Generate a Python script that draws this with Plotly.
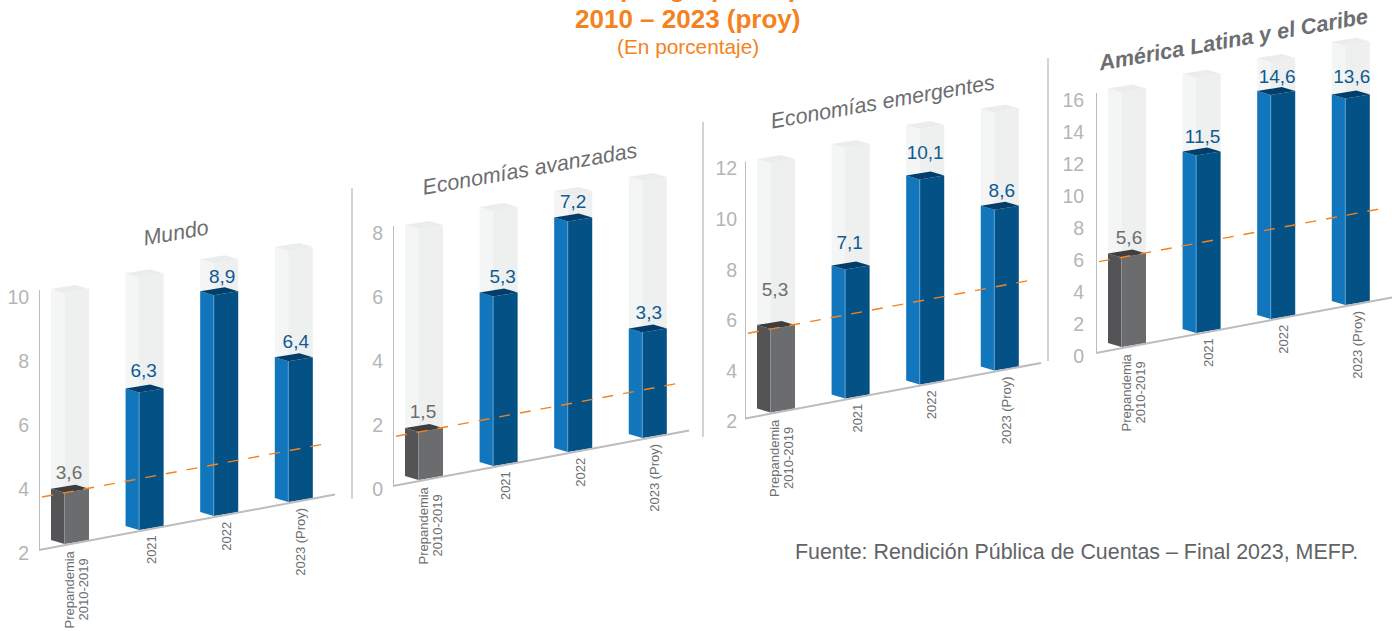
import plotly.graph_objects as go

# ---------- data ----------
categories = ["Prepandemia<br>2010-2019", "2021", "2022", "2023 (Proy)"]
panel_titles = ["Mundo", "Economías avanzadas", "Economías emergentes", "América Latina y el Caribe"]

# printed labels
mundo_labels = [3.6, 6.3, 8.9, 6.4]
avanzadas_labels = [1.5, 5.3, 7.2, 3.3]
emergentes_labels = [5.3, 7.1, 10.1, 8.6]
latam_labels = [5.6, 11.5, 14.6, 13.6]

# bar heights as read against each panel's own axis
mundo_levels = [3.6, 6.3, 8.9, 6.4]
avanzadas_levels = [1.5, 5.3, 7.2, 3.3]
emergentes_levels = [5.3, 7.1, 10.1, 8.35]
latam_levels = [5.6, 11.1, 14.0, 12.9]

# light backdrop column heights on each axis
mundo_backdrop = [9.84, 9.9, 9.9, 9.84]
avanzadas_backdrop = [7.84, 7.97, 8.03, 8.03]
emergentes_backdrop = [11.86, 11.9, 12.1, 12.2]
latam_backdrop = [15.9, 15.95, 16.06, 16.2]

mundo_ticks = [2, 4, 6, 8, 10]
avanzadas_ticks = [0, 2, 4, 6, 8]
emergentes_ticks = [2, 4, 6, 8, 10, 12]
latam_ticks = [0, 2, 4, 6, 8, 10, 12, 14, 16]

main_title = "Inflación por grupo de países"
sub_title = "2010 – 2023 (proy)"
unit_title = "(En porcentaje)"
source_note = "Fuente: Rendición Pública de Cuentas – Final 2023, MEFP."

# ---------- layout / style ----------
W, H = 1400, 631
FONT = "Liberation Sans"
ORANGE = "#f58220"
AX_GREY = "#bcbcbf"
TICK_GREY = "#b4b5b7"
TEXT_GREY = "#6d6e70"
VALUE_BLUE = "#0f5b92"
BLUE = ("#1176bc", "#045285", "#033e6b", "#5b9fd1")
DARK = ("#545456", "#6b6c6e", "#3e3e40", "#8f9092")
BACK = ("#f4f5f5", "#eeefef", "#ebecec", None)

STEP = 74.6      # px between columns
RISE = 14.0      # px the floor climbs from column to column
LEFT_W, RIGHT_W, CORNER = 13.5, 24.5, 4.0

panels = [
    dict(axis_x=39, tick0=553, scale=32.0, labels=mundo_labels, levels=mundo_levels, ticks=mundo_ticks,
         backdrop=mundo_backdrop, lift=[19, 20, 17, 18], shift=[-1, -1, 3, 2], ticklen=5),
    dict(axis_x=393, tick0=489, scale=32.0, labels=avanzadas_labels, levels=avanzadas_levels, ticks=avanzadas_ticks,
         backdrop=avanzadas_backdrop, lift=[19, 18, 18, 18], shift=[-1, 4, 0, 1], ticklen=5),
    dict(axis_x=745, tick0=421.5, scale=25.3, labels=emergentes_labels, levels=emergentes_levels, ticks=emergentes_ticks,
         backdrop=emergentes_backdrop, lift=[38, 25, 25, 18], shift=[-1, -1, 0, 2], ticklen=3),
    dict(axis_x=1096, tick0=356, scale=16.0, labels=latam_labels, levels=latam_levels, ticks=latam_ticks,
         backdrop=latam_backdrop, lift=[18, 17, 17, 20], shift=[2, 1, 1, 1], ticklen=7),
]
title_spots = [
    dict(cx=176, cy=233, size=21.5, angle=-10, bold=False),
    dict(cx=530, cy=169, size=21.5, angle=-10, bold=False),
    dict(cx=882, cy=102, size=21.5, angle=-10, bold=False),
    dict(cx=1233, cy=39, size=21.8, angle=-10, bold=True),
]
dividers = [(352, 188, 499), (703, 122, 437), (1048, 58, 361)]

fig = go.Figure()
annotations = []
layout_axes = {}


def add_face_trace(xs, ys, color, xa, ya):
    fig.add_trace(go.Scatter(x=xs, y=ys, mode="lines", fill="toself", fillcolor=color,
                             line=dict(width=0), hoverinfo="skip", showlegend=False,
                             cliponaxis=False, xaxis=xa, yaxis=ya))


for n, p in enumerate(panels):
    suffix = "" if n == 0 else str(n + 1)
    xa, ya = "x" + suffix, "y" + suffix
    vmin = p["ticks"][0]
    scale = p["scale"]
    x_off = 25.5   # px from axis to first column's front edge
    span = 300

    layout_axes["xaxis" + suffix] = dict(
        domain=[p["axis_x"] / W, (p["axis_x"] + span) / W],
        range=[-x_off / STEP, (span - x_off) / STEP],
        visible=False, anchor=ya, fixedrange=True)
    layout_axes["yaxis" + suffix] = dict(
        domain=[0, 1],
        range=[vmin + (p["tick0"] - H) / scale, vmin + p["tick0"] / scale],
        tickvals=p["ticks"], ticktext=[str(t) for t in p["ticks"]],
        ticks="outside", ticklen=p["ticklen"], tickcolor="rgba(0,0,0,0)",
        showgrid=False, zeroline=False, showline=False, anchor=xa, fixedrange=True,
        tickfont=dict(family=FONT, size=19.5, color=TICK_GREY))

    def floor(i):
        return vmin + (9 + RISE * i) / scale

    def dx(px):
        return px / STEP

    def dy(px):
        return px / scale

    def faces(i, height_units):
        """left face, right face, cap of a column rising height_units above the floor"""
        b = floor(i)
        t = b + height_units
        lx, rx = i - dx(LEFT_W), i + dx(RIGHT_W)
        c = dy(CORNER)
        left = ([lx, i, i, lx, lx], [b + c, b, t, t + c, b + c])
        right = ([i, rx, rx, i, i], [b, b + c, t + c, t, b])
        cap = ([i, rx, i + dx(RIGHT_W - LEFT_W), lx, i], [t, t + c, t + 2 * c, t + c, t])
        return left, right, cap

    def draw_group(indices, heights, cols):
        buckets = [([], []), ([], []), ([], [])]
        for i, h in zip(indices, heights):
            for k, (fx, fy) in enumerate(faces(i, h)):
                buckets[k][0].extend(fx + [None])
                buckets[k][1].extend(fy + [None])
        for k in range(3):
            add_face_trace(buckets[k][0], buckets[k][1], cols[k], xa, ya)

    n_bars = len(p["levels"])
    idx = list(range(n_bars))
    draw_group(idx, [v - vmin for v in p["backdrop"]], BACK)
    draw_group([0], [p["levels"][0] - vmin], DARK)
    draw_group(idx[1:], [v - vmin for v in p["levels"][1:]], BLUE)

    # inner column edges
    for i in idx:
        edge = DARK[3] if i == 0 else BLUE[3]
        fig.add_trace(go.Scatter(x=[i, i], y=[floor(i), floor(i) + p["levels"][i] - vmin],
                                 mode="lines", line=dict(color=edge, width=1),
                                 hoverinfo="skip", showlegend=False, xaxis=xa, yaxis=ya))

    # axis and slanted floor
    corner_x = -x_off / STEP
    end_x = corner_x + 296 / STEP
    fig.add_trace(go.Scatter(
        x=[corner_x, corner_x, end_x],
        y=[vmin + (p["ticks"][-1] - vmin) + dy(7), vmin + dy(3), vmin + dy(3 + RISE * (end_x - corner_x))],
        mode="lines", line=dict(color=AX_GREY, width=2), hoverinfo="skip", showlegend=False,
        cliponaxis=False, xaxis=xa, yaxis=ya))

    # dashed pre-pandemic reference
    ref = p["levels"][0]
    x_a, x_b = -22.5 / STEP, 265.5 / STEP
    fig.add_trace(go.Scatter(
        x=[x_a, x_b], y=[ref + dy(9 + RISE * x_a), ref + dy(9 + RISE * x_b)],
        mode="lines", line=dict(color=ORANGE, width=1.4, dash="11px,10px"),
        hoverinfo="skip", showlegend=False, xaxis=xa, yaxis=ya))

    # value labels
    fig.add_trace(go.Scatter(
        x=[i + dx(5.5 + p["shift"][i]) for i in idx],
        y=[floor(i) + p["levels"][i] - vmin + dy(p["lift"][i]) for i in idx],
        text=[f"{v:.1f}".replace(".", ",") for v in p["labels"]],
        mode="text", textposition="middle center",
        textfont=dict(family=FONT, size=19, color=[TEXT_GREY] + [VALUE_BLUE] * (n_bars - 1)),
        hoverinfo="skip", showlegend=False, cliponaxis=False, xaxis=xa, yaxis=ya))

    # slanted-floor category labels
    for i, cat in enumerate(categories):
        parts = cat.split("<br>")
        if len(parts) == 1:
            annotations.append(dict(
                x=i + dx(12), y=floor(i) - dy(3.5), xref=xa, yref=ya, text=cat, showarrow=False,
                textangle=-90, xanchor="center", yanchor="top",
                font=dict(family=FONT, size=13, color=TEXT_GREY)))
        else:
            for j, part in enumerate(parts):
                annotations.append(dict(
                    x=i + dx(4 + 14 * j), y=floor(i) - dy(46), xref=xa, yref=ya, text=part,
                    showarrow=False, textangle=-90, xanchor="center", yanchor="middle",
                    font=dict(family=FONT, size=13, color=TEXT_GREY)))

    spot = title_spots[n]
    txt = panel_titles[n]
    annotations.append(dict(
        x=spot["cx"] / W, y=1 - spot["cy"] / H, xref="paper", yref="paper", showarrow=False,
        text=f"<b><i>{txt}</i></b>" if spot["bold"] else f"<i>{txt}</i>",
        textangle=spot["angle"], xanchor="center", yanchor="middle",
        font=dict(family=FONT, size=spot["size"], color=TEXT_GREY)))

# page headings
for text, cy, size in [(f"<b>{main_title}</b>", -12, 26), (f"<b>{sub_title}</b>", 19, 26), (unit_title, 47, 20.8)]:
    annotations.append(dict(x=687.5 / W, y=1 - cy / H, xref="paper", yref="paper", text=text, showarrow=False,
                            xanchor="center", yanchor="middle", font=dict(family=FONT, size=size, color=ORANGE)))
annotations.append(dict(x=1360 / W, y=1 - 552 / H, xref="paper", yref="paper", text=source_note, showarrow=False,
                        xanchor="right", yanchor="middle", font=dict(family=FONT, size=21.4, color="#626366")))

shapes = [dict(type="line", xref="paper", yref="paper", x0=x / W, x1=x / W, y0=1 - y1 / H, y1=1 - y0 / H,
               line=dict(color="#bdbdc0", width=1.3)) for x, y0, y1 in dividers]

fig.update_layout(width=W, height=H, margin=dict(l=0, r=0, t=0, b=0), autosize=False,
                  paper_bgcolor="white", plot_bgcolor="rgba(0,0,0,0)", showlegend=False,
                  annotations=annotations, shapes=shapes, **layout_axes)

fig.write_html("out.html", config=dict(displayModeBar=False),
               post_script="document.body.style.margin='0';document.documentElement.style.overflow='hidden';")
